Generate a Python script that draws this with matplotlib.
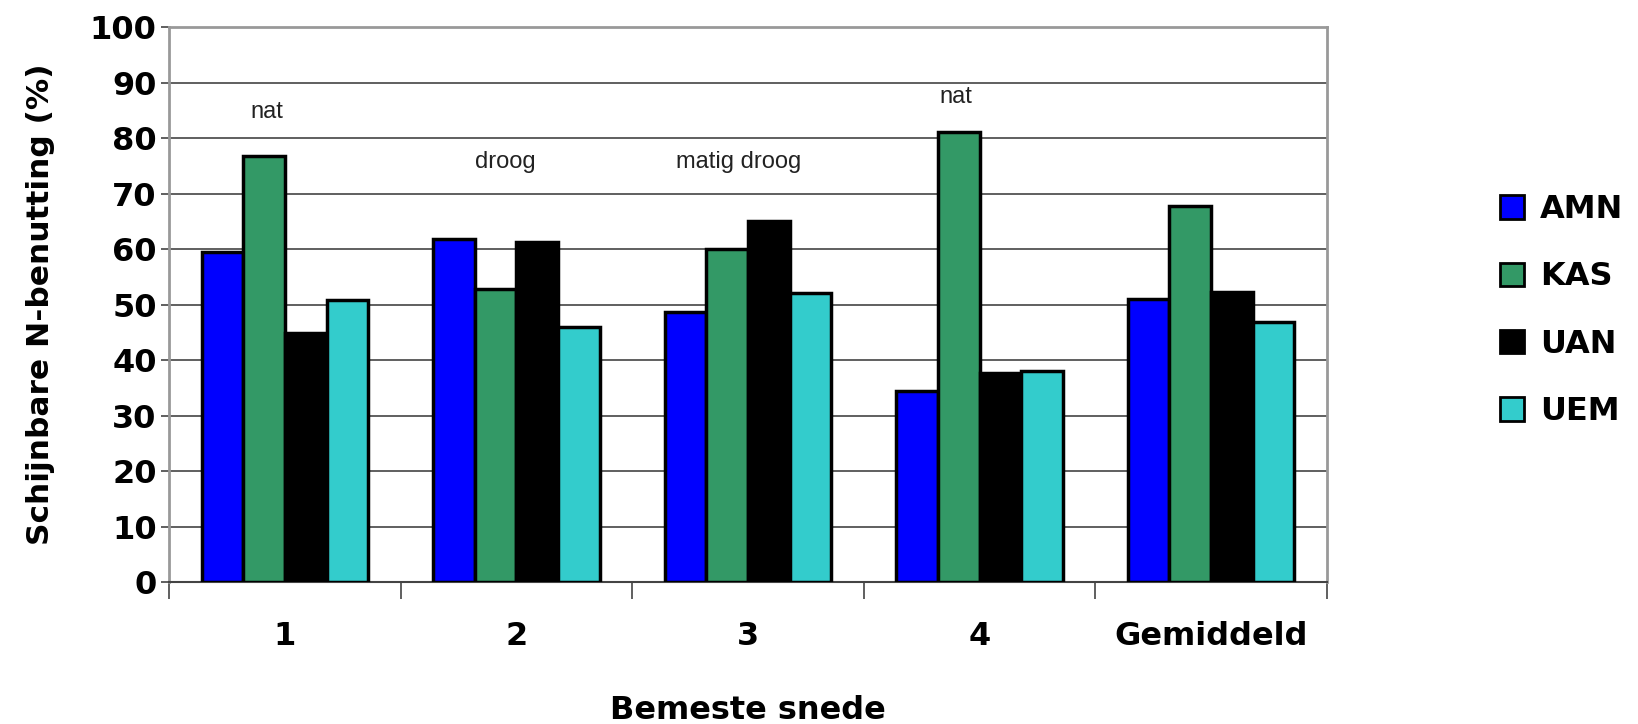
import numpy as np
import matplotlib
matplotlib.use('Agg')
import matplotlib.pyplot as plt

plt.rcParams['font.family'] = ['DejaVu Sans']

# Data
categories = ['1', '2', '3', '4', 'Gemiddeld']
series = ['AMN', 'KAS', 'UAN', 'UEM']
amn = [59.4, 61.9, 48.7, 34.4, 51.1]
kas = [76.8, 52.8, 60.0, 81.1, 67.7]
uan = [44.9, 61.3, 65.1, 37.6, 52.2]
uem = [50.9, 46.0, 52.1, 38.1, 46.8]
colors = ['#0000FF', '#339966', '#000000', '#33CCCC']

notes = ['nat', 'droog', 'matig droog', 'nat']
note_x = [-0.08, 0.95, 1.96, 2.90]
note_y = [84.8, 75.7, 75.7, 87.4]


def main():
    fig = plt.figure(figsize=(16.38, 7.24), dpi=100)
    ax = fig.add_axes([0.1033, 0.196, 0.7067, 0.7665])

    x = np.arange(len(categories))
    width = 0.18
    values = [amn, kas, uan, uem]
    for i, (name, vals) in enumerate(zip(series, values)):
        ax.bar(x + (i - 1.5) * width, vals, width, color=colors[i],
               edgecolor='black', linewidth=2.5, label=name, zorder=3)

    for t, tx, ty in zip(notes, note_x, note_y):
        ax.text(tx, ty, t, ha='center', va='center', fontsize=17,
                color='#222222', family='Liberation Sans')

    ax.set_xlim(-0.5, len(categories) - 0.5)
    ax.set_ylim(0, 100)
    ax.set_yticks(range(0, 101, 10))
    ax.yaxis.grid(True, color='#444444', linewidth=1.2, zorder=0)
    ax.tick_params(axis='y', labelsize=23, length=6, width=1.2, color='#444444', pad=3)
    for lbl in ax.get_yticklabels():
        lbl.set_fontweight('bold')

    ax.set_xticks(x)
    ax.set_xticklabels(categories, fontsize=23, fontweight='bold')
    ax.tick_params(axis='x', length=0, pad=28)
    ax.set_xticks(np.arange(-0.5, len(categories), 1.0), minor=True)
    ax.tick_params(axis='x', which='minor', length=12, width=1.2, color='#444444')

    for side in ['left', 'right', 'top']:
        ax.spines[side].set_color('#999999')
        ax.spines[side].set_linewidth(2)
    ax.spines['bottom'].set_color('#444444')
    ax.spines['bottom'].set_linewidth(1.5)

    ax.set_ylabel('Schijnbare N-benutting (%)', fontsize=22.5, fontweight='bold', labelpad=25)
    ax.set_xlabel('Bemeste snede', fontsize=23, fontweight='bold', labelpad=31)

    leg = fig.legend(loc='center left', bbox_to_anchor=(0.916, 0.571), frameon=False,
                     prop={'size': 23, 'weight': 'bold'}, handlelength=0.75,
                     handleheight=0.75, handletextpad=0.5, labelspacing=1.14,
                     borderpad=0, borderaxespad=0)
    for h in leg.legend_handles:
        h.set_linewidth(2)

    fig.savefig('out.png', dpi=100)


if __name__ == '__main__':
    main()
